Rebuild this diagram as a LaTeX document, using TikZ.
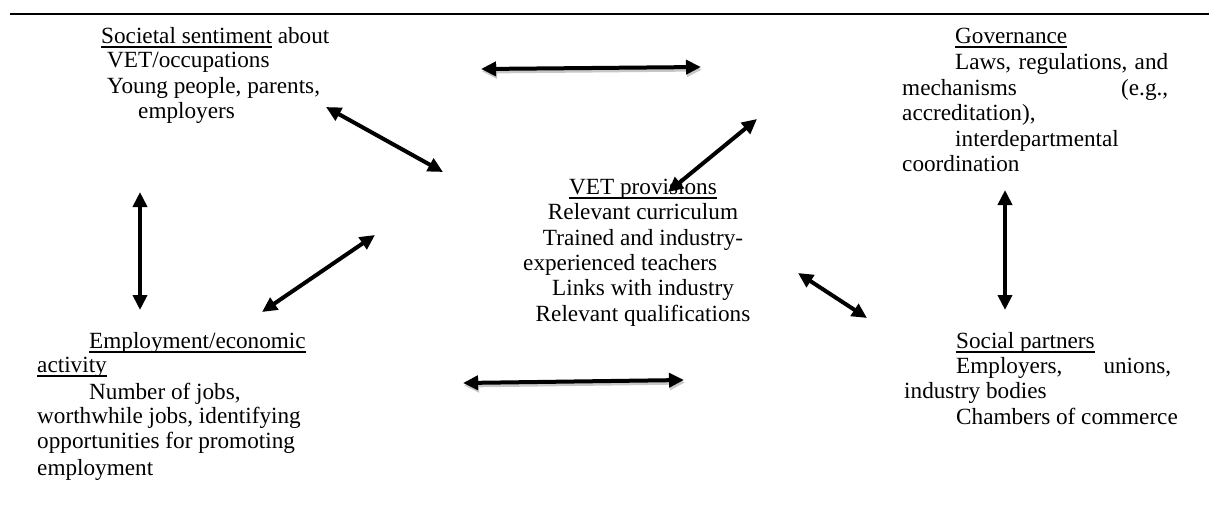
\documentclass[tikz,border=0pt]{standalone}
\usepackage{fontspec}
\setmainfont{Liberation Serif}
\usetikzlibrary{arrows.meta}
\newcommand\ulx[1]{\setbox0\hbox{#1}\rlap{\rule[-4.5pt]{\wd0}{2pt}}\box0\relax}
\tikzset{
  txt/.style={inner sep=0pt, anchor=base west, font=\fontsize{23.2}{25}\selectfont},
  ctxt/.style={txt, anchor=base},
  dbl/.style={line width=4pt, {Triangle[length=15pt,width=14pt]}-{Triangle[length=15pt,width=14pt]}},
  shadowed/.style={dbl, black!22, transform canvas={shift={(1pt,-2.5pt)}}}
}
\begin{document}
\begin{tikzpicture}[x=1pt,y=-1pt]
\useasboundingbox (0,0) rectangle (1209,515);
\coordinate (tl) at (10,14);
\coordinate (tr) at (1209,14);
\draw[line width=2.5pt] (tl) -- (tr);

% Societal sentiment
\node[txt] (s1) at (101,43) {\ulx{Societal sentiment} about};
\node[txt] (s2) at (107,67) {VET/occupations};
\node[txt] (s3) at (107,93) {Young people, parents,};
\node[txt] (s4) at (138,118) {employers};

% Governance
\node[txt] (g1) at (955,43) {\ulx{Governance}};
\node[txt] (g2) at (955,69) {\makebox[213pt][s]{Laws,\hfill regulations,\hfill and}};
\node[txt] (g3) at (902,95) {\makebox[266pt][s]{mechanisms\hfill(e.g.,}};
\node[txt] (g4) at (902,120) {accreditation),};
\node[txt] (g5) at (955,146) {interdepartmental};
\node[txt] (g6) at (902,171) {coordination};

% VET provisions
\node[ctxt] (v1) at (643,194) {\ulx{VET provisions}};
\node[ctxt] (v2) at (643,219) {Relevant curriculum};
\node[ctxt] (v3) at (643,245) {Trained and industry-};
\node[txt]  (v4) at (523,270) {experienced teachers};
\node[ctxt] (v5) at (643,295) {Links with industry};
\node[ctxt] (v6) at (643,321) {Relevant qualifications};

% Employment
\node[txt] (e1) at (89,348) {\ulx{Employment/economic}};
\node[txt] (e2) at (37,372) {\ulx{activity}};
\node[txt] (e3) at (89,399) {Number of jobs,};
\node[txt] (e4) at (37,423) {worthwhile jobs, identifying};
\node[txt] (e5) at (37,448) {opportunities for promoting};
\node[txt] (e6) at (37,475) {employment};

% Social partners
\node[txt] (p1) at (956,348) {\ulx{Social partners}};
\node[txt] (p2) at (956,373) {\makebox[215pt][s]{Employers,\hfill unions,}};
\node[txt] (p3) at (904,398) {industry bodies};
\node[txt] (p4) at (956,424) {Chambers of commerce};

% arrow end points
\coordinate (a1s) at (481,69);  \coordinate (a1e) at (701,67);
\coordinate (a2s) at (326,107); \coordinate (a2e) at (443,172);
\coordinate (a3s) at (668,192); \coordinate (a3e) at (757,119);
\coordinate (a4s) at (140,192); \coordinate (a4e) at (140,310);
\coordinate (a5s) at (262,312); \coordinate (a5e) at (375,235);
\coordinate (a6s) at (1005,190); \coordinate (a6e) at (1005,310);
\coordinate (a7s) at (798,273); \coordinate (a7e) at (867,318);
\coordinate (a8s) at (463,383); \coordinate (a8e) at (684,380);

\draw[shadowed] (a1s) -- (a1e);
\draw[shadowed] (a8s) -- (a8e);
\draw[dbl] (a1s) -- (a1e);
\draw[dbl] (a2s) -- (a2e);
\draw[dbl] (a3s) -- (a3e);
\draw[dbl] (a4s) -- (a4e);
\draw[dbl] (a5s) -- (a5e);
\draw[dbl] (a6s) -- (a6e);
\draw[dbl] (a7s) -- (a7e);
\draw[dbl] (a8s) -- (a8e);
\end{tikzpicture}
\end{document}
